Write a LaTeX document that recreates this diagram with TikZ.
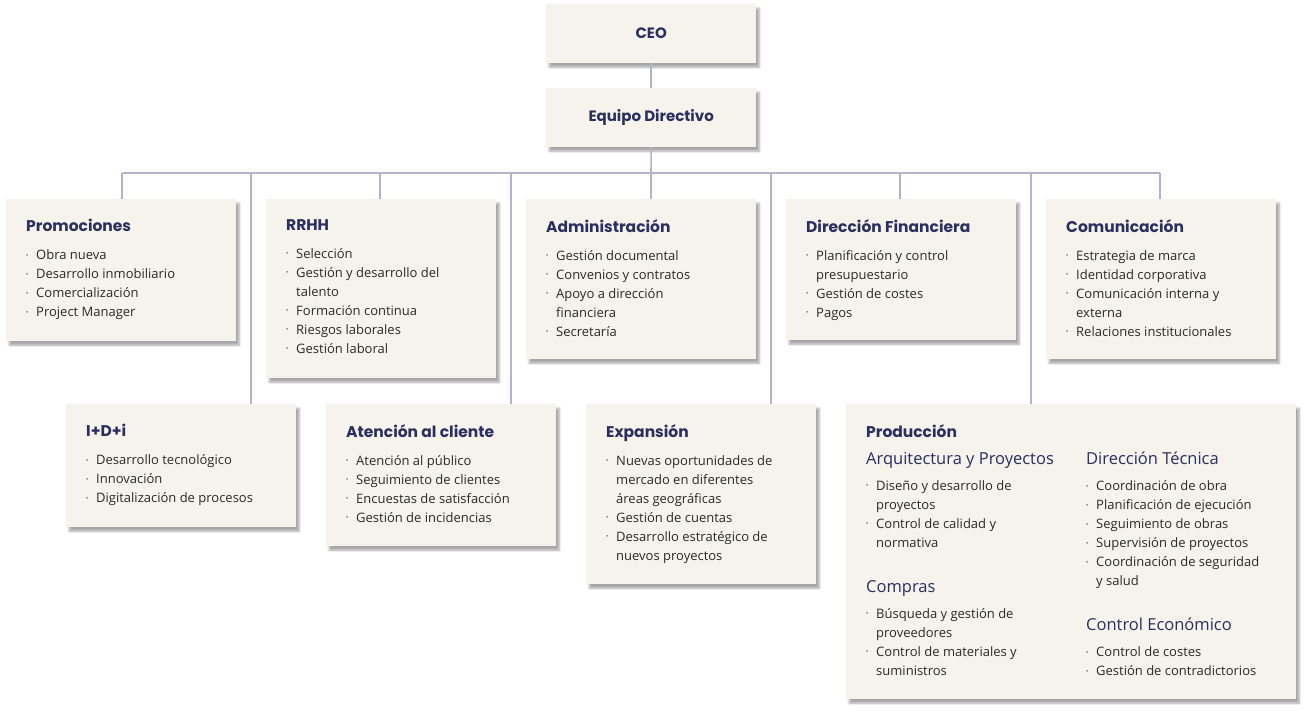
\documentclass[tikz,border=0pt]{standalone}
\usepackage{fontspec}
\setmainfont{Open Sans}
\newfontfamily\hfont{Poppins}
\usetikzlibrary{shadows.blur}
\definecolor{boxfill}{HTML}{F5F3EC}
\definecolor{navy}{HTML}{2B2F5E}
\definecolor{txt}{HTML}{2A2A2A}
\definecolor{conn}{HTML}{B2B4C9}
\tikzset{
 box/.style={fill=boxfill,draw=none,anchor=north west,inner sep=0pt,blur shadow={shadow xshift=3pt,shadow yshift=-4pt,shadow blur steps=6,shadow opacity=35}},
 conn/.style={draw=conn,line width=1.6pt},
 content/.style={anchor=north west,inner sep=0pt,align=left,text=txt,font=\fontsize{13}{19}\selectfont},
 toplabel/.style={font=\hfont\bfseries\fontsize{15}{18}\selectfont,text=navy}
}
\newcommand{\hd}[1]{{\hfont\bfseries\fontsize{15.5}{18}\selectfont\color{navy}#1}\\[9pt]}
\newcommand{\sh}[1]{{\fontsize{16.5}{18}\selectfont\color{navy}#1}\\[7pt]}
\newcommand{\bi}{\makebox[10pt][l]{\raisebox{2.5pt}{\scalebox{0.45}{\textbullet}}}}
\newcommand{\ci}{\hspace*{10pt}}
\begin{document}
\begin{tikzpicture}[x=1pt,y=-1pt]
\useasboundingbox (0,0) rectangle (1306,711);
% boxes
\node[box,minimum width=210pt,minimum height=59pt] (ceo) at (546,4) {};
\node[toplabel] at (ceo.center) {CEO};
\node[box,minimum width=210pt,minimum height=59pt] (eq) at (546,88) {};
\node[toplabel] at (eq.center) {Equipo Directivo};
\node[box,minimum width=230pt,minimum height=142pt] (pro) at (6,199) {};
\node[box,minimum width=230pt,minimum height=179pt] (rrhh) at (266,199) {};
\node[box,minimum width=230pt,minimum height=160pt] (adm) at (526,199) {};
\node[box,minimum width=230pt,minimum height=141pt] (dfin) at (786,199) {};
\node[box,minimum width=230pt,minimum height=160pt] (com) at (1046,199) {};
\node[box,minimum width=230pt,minimum height=123pt] (idi) at (66,404) {};
\node[box,minimum width=230pt,minimum height=142pt] (aten) at (326,404) {};
\node[box,minimum width=230pt,minimum height=180pt] (exp) at (586,404) {};
\node[box,minimum width=450pt,minimum height=295pt] (prod) at (846,404) {};
% connectors
\coordinate (bus) at (651,173);
\coordinate (bL) at (122,173);
\coordinate (bR) at (1160,173);
\draw[conn] (ceo.south) -- (eq.north);
\draw[conn] (eq.south) -- (bus);
\draw[conn] (bL) -- (bR);
\draw[conn] (bL) -- (pro.north -| bL);
\draw[conn] (380,173) coordinate (b2) -- (rrhh.north -| b2);
\draw[conn] (bus) -- (adm.north -| bus);
\draw[conn] (900,173) coordinate (b4) -- (dfin.north -| b4);
\draw[conn] (bR) -- (com.north -| bR);
\draw[conn] (251,173) coordinate (d1) -- (idi.north -| d1);
\draw[conn] (511,173) coordinate (d2) -- (aten.north -| d2);
\draw[conn] (771,173) coordinate (d3) -- (exp.north -| d3);
\draw[conn] (1031,173) coordinate (d4) -- (prod.north -| d4);
% contents
\node[content] (tpro) at (26,219) {\hd{Promociones}\bi Obra nueva\\\bi Desarrollo inmobiliario\\\bi Comercialización\\\bi Project Manager};
\node[content] (trrhh) at (286,219) {\hd{RRHH}\bi Selección\\\bi Gestión y desarrollo del\\\ci talento\\\bi Formación continua\\\bi Riesgos laborales\\\bi Gestión laboral};
\node[content] (tadm) at (546,219) {\hd{Administración}\bi Gestión documental\\\bi Convenios y contratos\\\bi Apoyo a dirección\\\ci financiera\\\bi Secretaría};
\node[content] (tdfin) at (806,219) {\hd{Dirección Financiera}\bi Planificación y control\\\ci presupuestario\\\bi Gestión de costes\\\bi Pagos};
\node[content] (tcom) at (1066,219) {\hd{Comunicación}\bi Estrategia de marca\\\bi Identidad corporativa\\\bi Comunicación interna y\\\ci externa\\\bi Relaciones institucionales};
\node[content] (tidi) at (86,424) {\hd{I+D+i}\bi Desarrollo tecnológico\\\bi Innovación\\\bi Digitalización de procesos};
\node[content] (taten) at (346,424) {\hd{Atención al cliente}\bi Atención al público\\\bi Seguimiento de clientes\\\bi Encuestas de satisfacción\\\bi Gestión de incidencias};
\node[content] (texp) at (606,424) {\hd{Expansión}\bi Nuevas oportunidades de\\\ci mercado en diferentes\\\ci áreas geográficas\\\bi Gestión de cuentas\\\bi Desarrollo estratégico de\\\ci nuevos proyectos};
\node[content] (tprod) at (866,424) {\hd{Producción}};
\node[content] (tarq) at (866,452) {\sh{Arquitectura y Proyectos}\bi Diseño y desarrollo de\\\ci proyectos\\\bi Control de calidad y\\\ci normativa};
\node[content] (tcompras) at (866,580) {\sh{Compras}\bi Búsqueda y gestión de\\\ci proveedores\\\bi Control de materiales y\\\ci suministros};
\node[content] (tdt) at (1086,452) {\sh{Dirección Técnica}\bi Coordinación de obra\\\bi Planificación de ejecución\\\bi Seguimiento de obras\\\bi Supervisión de proyectos\\\bi Coordinación de seguridad\\\ci y salud};
\node[content] (tce) at (1086,618) {\sh{Control Económico}\bi Control de costes\\\bi Gestión de contradictorios};
\end{tikzpicture}
\end{document}
